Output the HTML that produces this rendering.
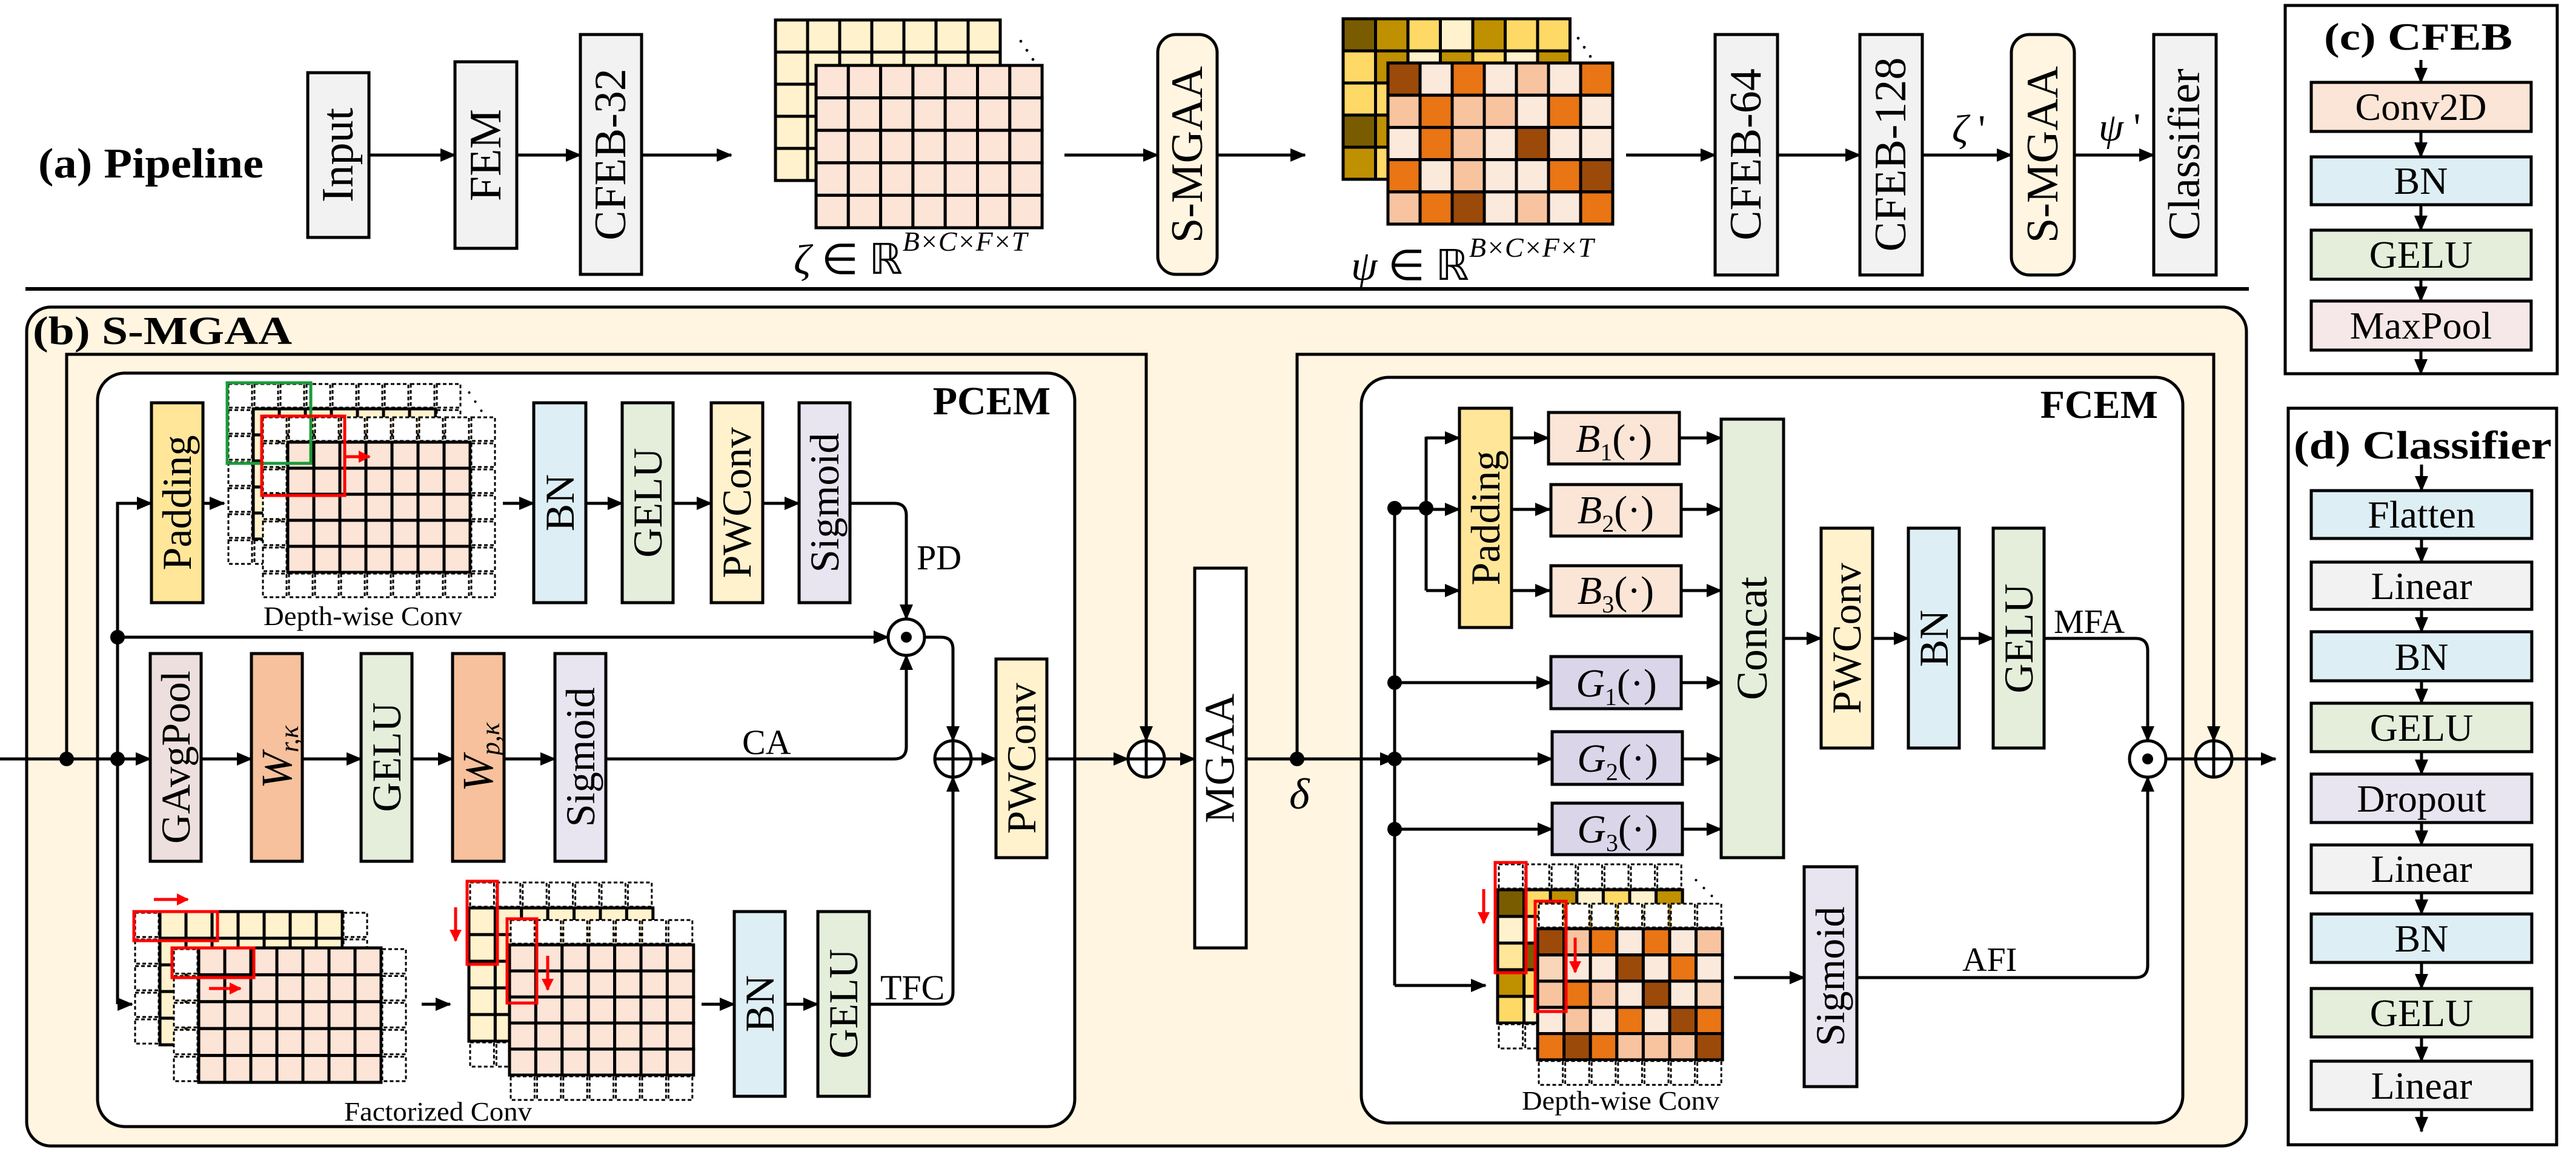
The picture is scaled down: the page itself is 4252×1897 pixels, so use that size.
<!DOCTYPE html>
<html><head><meta charset="utf-8"><style>
html,body{margin:0;padding:0;background:#fff;}
svg{display:block;font-family:"Liberation Serif","Times New Roman",serif;}
text{font-family:"Liberation Serif","Times New Roman",serif;fill:#000;}
.rot{text-anchor:middle;dominant-baseline:central;}
.b{stroke:#000;stroke-width:5;}
.ln{stroke:#000;stroke-width:5;fill:none;}
.ar{stroke:#000;stroke-width:5;fill:none;marker-end:url(#ah);}
</style></head><body>
<svg id="s" xmlns="http://www.w3.org/2000/svg" width="4252" height="1897" viewBox="0 0 4252 1897" font-family="Liberation Serif, serif">
<defs>
<marker id="ah" markerUnits="userSpaceOnUse" markerWidth="26" markerHeight="22" refX="24" refY="11" orient="auto"><path d="M0,0 L26,11 L0,22 Z" fill="#000"/></marker>
<marker id="rh" markerUnits="userSpaceOnUse" markerWidth="20" markerHeight="20" refX="18" refY="10" orient="auto"><path d="M0,0 L20,10 L0,20 Z" fill="#f00"/></marker>
</defs>

<!-- (a) Pipeline -->
<text x="63" y="293" font-size="70" font-weight="bold" textLength="372" lengthAdjust="spacingAndGlyphs">(a) Pipeline</text>
<rect x="508" y="120" width="101" height="272" fill="#f2f2f2" class="b"/>
<text class="rot" font-size="74" transform="translate(558,256) rotate(-90)">Input</text>
<rect x="751" y="102" width="102" height="308" fill="#f2f2f2" class="b"/>
<text class="rot" font-size="74" transform="translate(802,256) rotate(-90)">FEM</text>
<rect x="958" y="57" width="101" height="396" fill="#f2f2f2" class="b"/>
<text class="rot" font-size="74" transform="translate(1008,255) rotate(-90)">CFEB-32</text>
<rect x="1911" y="57" width="98" height="396" rx="30" fill="#fff5e0" class="b"/>
<text class="rot" font-size="74" transform="translate(1960,255) rotate(-90)">S-MGAA</text>
<rect x="2831" y="57" width="103" height="397" fill="#f2f2f2" class="b"/>
<text class="rot" font-size="74" transform="translate(2882,255) rotate(-90)">CFEB-64</text>
<rect x="3070" y="57" width="103" height="397" fill="#f2f2f2" class="b"/>
<text class="rot" font-size="74" transform="translate(3121,255) rotate(-90)">CFEB-128</text>
<rect x="3320" y="57" width="104" height="397" rx="30" fill="#fff5e0" class="b"/>
<text class="rot" font-size="74" transform="translate(3372,255) rotate(-90)">S-MGAA</text>
<rect x="3555" y="57" width="103" height="397" fill="#f2f2f2" class="b"/>
<text class="rot" font-size="74" transform="translate(3606,255) rotate(-90)">Classifier</text>

<path class="ar" d="M609,256 H751"/><path class="ar" d="M853,256 H958"/><path class="ar" d="M1059,256 H1207"/>
<path class="ar" d="M1757,256 H1911"/><path class="ar" d="M2009,256 H2154"/>
<path class="ar" d="M2684,256 H2831"/><path class="ar" d="M2934,256 H3070"/><path class="ar" d="M3173,256 H3320"/><path class="ar" d="M3424,256 H3555"/>

<g id="gTop"></g>
<text x="1680" y="70" font-size="40">.</text><text x="1690" y="85" font-size="40">.</text><text x="1700" y="100" font-size="40">.</text>
<text x="2600" y="65" font-size="40">.</text><text x="2610" y="80" font-size="40">.</text><text x="2620" y="95" font-size="40">.</text>
<text x="1310" y="452" font-size="70" font-style="italic">ζ <tspan font-style="normal">∈ ℝ</tspan><tspan dy="-38" font-size="46">B×C×F×T</tspan></text>
<text x="2230" y="462" font-size="70" font-style="italic">ψ <tspan font-style="normal">∈ ℝ</tspan><tspan dy="-38" font-size="46">B×C×F×T</tspan></text>
<text x="3222" y="235" font-size="66" font-style="italic">ζ <tspan font-style="normal">'</tspan></text>
<text x="3464" y="232" font-size="66" font-style="italic">ψ <tspan font-style="normal">'</tspan></text>

<line x1="42" y1="477" x2="3712" y2="477" stroke="#000" stroke-width="6"/>

<!-- (c) CFEB -->
<rect x="3772" y="9" width="449" height="608" fill="#fff" class="b"/>
<text x="3836" y="82" font-size="64" font-weight="bold" textLength="311" lengthAdjust="spacingAndGlyphs">(c) CFEB</text>
<rect x="3815" y="136" width="363" height="81" fill="#fbe5d6" class="b"/><text x="3996" y="198" font-size="64" text-anchor="middle">Conv2D</text>
<rect x="3815" y="259" width="363" height="79" fill="#deeef5" class="b"/><text x="3996" y="320" font-size="64" text-anchor="middle">BN</text>
<rect x="3815" y="380" width="363" height="81" fill="#e4eedb" class="b"/><text x="3996" y="442" font-size="64" text-anchor="middle">GELU</text>
<rect x="3815" y="497" width="363" height="81" fill="#f6e8e8" class="b"/><text x="3996" y="559" font-size="64" text-anchor="middle">MaxPool</text>
<path class="ar" d="M3996,99 V136"/><path class="ar" d="M3996,217 V259"/><path class="ar" d="M3996,338 V380"/><path class="ar" d="M3996,461 V497"/><path class="ar" d="M3996,578 V617"/>

<!-- (d) Classifier -->
<rect x="3777" y="674" width="443" height="1216" fill="#fff" class="b"/>
<text x="3786" y="757" font-size="66" font-weight="bold" textLength="426" lengthAdjust="spacingAndGlyphs">(d) Classifier</text>
<rect x="3815" y="810" width="364" height="79" fill="#deeef5" class="b"/><text x="3997" y="871" font-size="64" text-anchor="middle">Flatten</text>
<rect x="3815" y="928" width="364" height="78" fill="#f2f2f2" class="b"/><text x="3997" y="989" font-size="64" text-anchor="middle">Linear</text>
<rect x="3815" y="1043" width="364" height="81" fill="#deeef5" class="b"/><text x="3997" y="1106" font-size="64" text-anchor="middle">BN</text>
<rect x="3815" y="1161" width="364" height="80" fill="#e4eedb" class="b"/><text x="3997" y="1223" font-size="64" text-anchor="middle">GELU</text>
<rect x="3815" y="1278" width="364" height="80" fill="#e8e4f0" class="b"/><text x="3997" y="1340" font-size="64" text-anchor="middle">Dropout</text>
<rect x="3815" y="1395" width="364" height="79" fill="#f2f2f2" class="b"/><text x="3997" y="1456" font-size="64" text-anchor="middle">Linear</text>
<rect x="3815" y="1509" width="364" height="80" fill="#deeef5" class="b"/><text x="3997" y="1571" font-size="64" text-anchor="middle">BN</text>
<rect x="3815" y="1632" width="364" height="80" fill="#e4eedb" class="b"/><text x="3997" y="1694" font-size="64" text-anchor="middle">GELU</text>
<rect x="3815" y="1752" width="364" height="80" fill="#f2f2f2" class="b"/><text x="3997" y="1814" font-size="64" text-anchor="middle">Linear</text>
<path class="ar" d="M3997,767 V810"/><path class="ar" d="M3997,889 V928"/><path class="ar" d="M3997,1006 V1043"/><path class="ar" d="M3997,1124 V1161"/><path class="ar" d="M3997,1241 V1278"/><path class="ar" d="M3997,1358 V1395"/><path class="ar" d="M3997,1474 V1509"/><path class="ar" d="M3997,1589 V1632"/><path class="ar" d="M3997,1712 V1752"/><path class="ar" d="M3997,1832 V1868"/>

<!-- (b) S-MGAA -->
<rect x="44" y="507" width="3664" height="1385" rx="40" fill="#fff5e0" class="b"/>
<text x="54" y="568" font-size="66" font-weight="bold" textLength="428" lengthAdjust="spacingAndGlyphs">(b) S-MGAA</text>
<rect x="161" y="616" width="1613" height="1244" rx="45" fill="#fff" class="b"/>
<text x="1734" y="684" font-size="66" font-weight="bold" text-anchor="end">PCEM</text>
<rect x="2247" y="623" width="1356" height="1231" rx="45" fill="#fff" class="b"/>
<text x="3562" y="690" font-size="66" font-weight="bold" text-anchor="end">FCEM</text>

<g id="gIn"></g>

<!-- PCEM boxes -->
<rect x="250" y="665" width="85" height="330" fill="#ffe699" class="b"/><text class="rot" font-size="68" transform="translate(292,830) rotate(-90)">Padding</text>
<rect x="881" y="665" width="86" height="330" fill="#deeef5" class="b"/><text class="rot" font-size="68" transform="translate(924,830) rotate(-90)">BN</text>
<rect x="1027" y="665" width="84" height="330" fill="#e4eedb" class="b"/><text class="rot" font-size="68" transform="translate(1069,830) rotate(-90)">GELU</text>
<rect x="1174" y="665" width="85" height="330" fill="#fff2cc" class="b"/><text class="rot" font-size="68" transform="translate(1216,830) rotate(-90)">PWConv</text>
<rect x="1319" y="665" width="84" height="330" fill="#e8e4f0" class="b"/><text class="rot" font-size="68" transform="translate(1361,830) rotate(-90)">Sigmoid</text>
<text x="1513" y="940" font-size="58">PD</text>

<rect x="248" y="1079" width="84" height="343" fill="#eedfdf" class="b"/><text class="rot" font-size="68" transform="translate(290,1250) rotate(-90)">GAvgPool</text>
<rect x="415" y="1079" width="84" height="343" fill="#f6c19c" class="b"/><text class="rot" font-size="72" font-style="italic" transform="translate(457,1250) rotate(-90)">W<tspan font-size="44" dy="20">r,κ</tspan></text>
<rect x="596" y="1079" width="84" height="343" fill="#e4eedb" class="b"/><text class="rot" font-size="68" transform="translate(638,1250) rotate(-90)">GELU</text>
<rect x="747" y="1079" width="85" height="343" fill="#f6c19c" class="b"/><text class="rot" font-size="72" font-style="italic" transform="translate(789,1250) rotate(-90)">W<tspan font-size="44" dy="20">p,κ</tspan></text>
<rect x="916" y="1079" width="84" height="343" fill="#e8e4f0" class="b"/><text class="rot" font-size="68" transform="translate(958,1250) rotate(-90)">Sigmoid</text>
<text x="1225" y="1245" font-size="58">CA</text>

<rect x="1212" y="1505" width="84" height="305" fill="#deeef5" class="b"/><text class="rot" font-size="68" transform="translate(1254,1657) rotate(-90)">BN</text>
<rect x="1350" y="1505" width="85" height="305" fill="#e4eedb" class="b"/><text class="rot" font-size="68" transform="translate(1392,1657) rotate(-90)">GELU</text>
<text x="1453" y="1650" font-size="58">TFC</text>
<text x="435" y="1032" font-size="44" textLength="328" lengthAdjust="spacingAndGlyphs">Depth-wise Conv</text>
<text x="568" y="1850" font-size="44" textLength="310" lengthAdjust="spacingAndGlyphs">Factorized Conv</text>

<rect x="1644" y="1088" width="84" height="328" fill="#fff2cc" class="b"/><text class="rot" font-size="68" transform="translate(1686,1252) rotate(-90)">PWConv</text>
<rect x="1972" y="938" width="85" height="627" fill="#fff" class="b"/><text class="rot" font-size="70" transform="translate(2014,1252) rotate(-90)">MGAA</text>

<!-- PCEM connectors -->
<path class="ln" d="M0,1253 H248"/><path class="ar" d="M194,1253 H248"/>
<path class="ar" d="M110,1253 V585 H1892 V1223"/>
<path class="ar" d="M194,1658 V831 H250"/>
<path class="ar" d="M194,1658 H218"/>
<path class="ar" d="M335,831 H370"/>
<path class="ar" d="M830,831 H881"/><path class="ar" d="M967,831 H1027"/><path class="ar" d="M1111,831 H1174"/><path class="ar" d="M1259,831 H1319"/>
<path class="ar" d="M1403,831 H1476 Q1496,831 1496,851 V1022"/>
<path class="ar" d="M194,1052 H1466"/>
<path class="ar" d="M1526,1052 H1553 Q1573,1052 1573,1072 V1223"/>
<path class="ar" d="M332,1253 H415"/><path class="ar" d="M499,1253 H596"/><path class="ar" d="M680,1253 H747"/><path class="ar" d="M832,1253 H916"/>
<path class="ar" d="M1000,1253 H1476 Q1496,1253 1496,1233 V1082"/>
<path class="ar" d="M696,1658 H743"/><path class="ar" d="M1158,1658 H1212"/><path class="ar" d="M1296,1658 H1350"/>
<path class="ar" d="M1435,1658 H1553 Q1573,1658 1573,1638 V1283"/>
<path class="ar" d="M1603,1253 H1644"/>
<path class="ar" d="M1728,1253 H1862"/>
<path class="ar" d="M1922,1253 H1972"/>
<circle cx="110" cy="1253" r="12"/><circle cx="194" cy="1253" r="12"/><circle cx="194" cy="1052" r="12"/>
<circle cx="1496" cy="1052" r="30" fill="#fff" class="b"/><circle cx="1496" cy="1052" r="9"/>
<circle cx="1573" cy="1253" r="30" fill="#fff" class="b"/><path class="ln" d="M1543,1253 H1603 M1573,1223 V1283"/>
<circle cx="1892" cy="1253" r="30" fill="#fff" class="b"/><path class="ln" d="M1862,1253 H1922 M1892,1223 V1283"/>

<!-- FCEM -->
<path class="ar" d="M2057,1253 H2302"/>
<circle cx="2141" cy="1253" r="12"/>
<text x="2128" y="1335" font-size="72" font-style="italic">δ</text>
<path class="ar" d="M2141,1253 V585 H3654 V1223"/>
<path class="ln" d="M2302,839 V1627"/><path class="ar" d="M2302,1627 H2452"/>
<path class="ln" d="M2302,839 H2354 M2354,721 V975"/>
<path class="ar" d="M2354,723 H2409"/><path class="ar" d="M2354,841 H2409"/><path class="ar" d="M2354,975 H2409"/>
<circle cx="2302" cy="839" r="12"/><circle cx="2354" cy="839" r="12"/><circle cx="2302" cy="1127" r="12"/><circle cx="2302" cy="1253" r="12"/><circle cx="2302" cy="1369" r="12"/>
<rect x="2409" y="674" width="86" height="362" fill="#ffe699" class="b"/><text class="rot" font-size="68" transform="translate(2452,855) rotate(-90)">Padding</text>
<path class="ar" d="M2495,723 H2556"/><path class="ar" d="M2495,841 H2558"/><path class="ar" d="M2495,975 H2558"/>
<rect x="2556" y="681" width="216" height="85" fill="#fbe5d6" class="b"/>
<rect x="2560" y="800" width="215" height="85" fill="#fbe5d6" class="b"/>
<rect x="2560" y="934" width="215" height="83" fill="#fbe5d6" class="b"/>
<text x="2664" y="746" font-size="66" text-anchor="middle"><tspan font-style="italic">B</tspan><tspan font-size="40" dy="14">1</tspan><tspan dy="-14">(·)</tspan></text>
<text x="2667" y="864" font-size="66" text-anchor="middle"><tspan font-style="italic">B</tspan><tspan font-size="40" dy="14">2</tspan><tspan dy="-14">(·)</tspan></text>
<text x="2667" y="997" font-size="66" text-anchor="middle"><tspan font-style="italic">B</tspan><tspan font-size="40" dy="14">3</tspan><tspan dy="-14">(·)</tspan></text>
<rect x="2560" y="1084" width="215" height="86" fill="#dad5e8" class="b"/>
<rect x="2562" y="1208" width="215" height="87" fill="#dad5e8" class="b"/>
<rect x="2562" y="1326" width="215" height="85" fill="#dad5e8" class="b"/>
<text x="2668" y="1150" font-size="66" text-anchor="middle"><tspan font-style="italic">G</tspan><tspan font-size="40" dy="14">1</tspan><tspan dy="-14">(·)</tspan></text>
<text x="2670" y="1274" font-size="66" text-anchor="middle"><tspan font-style="italic">G</tspan><tspan font-size="40" dy="14">2</tspan><tspan dy="-14">(·)</tspan></text>
<text x="2670" y="1391" font-size="66" text-anchor="middle"><tspan font-style="italic">G</tspan><tspan font-size="40" dy="14">3</tspan><tspan dy="-14">(·)</tspan></text>
<path class="ar" d="M2302,1127 H2560"/><path class="ar" d="M2302,1253 H2562"/><path class="ar" d="M2302,1369 H2562"/>
<path class="ar" d="M2772,723 H2841"/><path class="ar" d="M2775,841 H2841"/><path class="ar" d="M2775,975 H2841"/><path class="ar" d="M2775,1127 H2841"/><path class="ar" d="M2777,1253 H2841"/><path class="ar" d="M2777,1369 H2841"/>
<rect x="2841" y="692" width="103" height="724" fill="#e4eedb" class="b"/><text class="rot" font-size="72" transform="translate(2892,1054) rotate(-90)">Concat</text>
<rect x="3006" y="872" width="85" height="363" fill="#fff2cc" class="b"/><text class="rot" font-size="68" transform="translate(3048,1054) rotate(-90)">PWConv</text>
<rect x="3150" y="872" width="84" height="363" fill="#deeef5" class="b"/><text class="rot" font-size="68" transform="translate(3192,1054) rotate(-90)">BN</text>
<rect x="3290" y="872" width="84" height="363" fill="#e4eedb" class="b"/><text class="rot" font-size="68" transform="translate(3332,1054) rotate(-90)">GELU</text>
<path class="ar" d="M2944,1054 H3006"/><path class="ar" d="M3091,1054 H3150"/><path class="ar" d="M3234,1054 H3290"/>
<path class="ar" d="M3374,1054 H3525 Q3545,1054 3545,1074 V1223"/>
<text x="3390" y="1045" font-size="56">MFA</text>
<rect x="2978" y="1431" width="87" height="363" fill="#e8e4f0" class="b"/><text class="rot" font-size="68" transform="translate(3021,1612) rotate(-90)">Sigmoid</text>
<path class="ar" d="M2862,1614 H2978"/>
<path class="ar" d="M3065,1614 H3525 Q3545,1614 3545,1594 V1283"/>
<text x="3239" y="1603" font-size="56">AFI</text>
<text x="2512" y="1832" font-size="44" textLength="326" lengthAdjust="spacingAndGlyphs">Depth-wise Conv</text>
<circle cx="3545" cy="1253" r="30" fill="#fff" class="b"/><circle cx="3545" cy="1253" r="9"/>
<path class="ln" d="M3575,1253 H3624"/>
<circle cx="3654" cy="1253" r="30" fill="#fff" class="b"/><path class="ln" d="M3624,1253 H3684 M3654,1223 V1283"/>
<path class="ar" d="M3684,1253 H3756"/>
<g id="gF"></g>
</svg>
<script>
var NS="http://www.w3.org/2000/svg";
function el(g,t,a){var e=document.createElementNS(NS,t);for(var k in a)e.setAttribute(k,a[k]);g.appendChild(e);return e;}
function grid(g,x,y,cols,rows,cw,ch,fn){
 for(var r=0;r<rows;r++)for(var c=0;c<cols;c++){
  var f=fn(r,c);
  if(f==='d')el(g,'rect',{x:x+c*cw+2,y:y+r*ch+2,width:cw-4,height:ch-4,fill:'#fff',stroke:'#000','stroke-width':3,'stroke-dasharray':'6,4'});
  else el(g,'rect',{x:x+c*cw,y:y+r*ch,width:cw,height:ch,fill:f,stroke:'#000','stroke-width':5});
 }}
var P='#fbe9dc',O='#e97514',BR='#9c4a0a',LP='#f8c4a0',LP2='#f9d5b9';
var DK='#7a5c00',GD='#bf9000',YL='#ffd966',PY='#fff2cc',YL2='#ffe699';
var gT=document.getElementById('gTop');
grid(gT,1280,33,7,5,53,53,function(){return '#fff2cc';});
grid(gT,1347,108,7,5,53.3,53.6,function(){return '#fce4d6';});
var bk=[[DK,GD,YL,PY,GD,YL,YL],[YL,GD,PY,GD,YL,PY,GD],[YL,YL,GD,PY,YL,GD,YL],[DK,GD,YL,PY,GD,YL,PY],[GD,YL,PY,GD,YL,DK,YL]];
grid(gT,2217,31,7,5,53.5,53,function(r,c){return bk[r][c];});
var fr=[[BR,P,O,P,LP,P,O],[LP,O,LP,LP,P,O,P],[P,O,LP,P,BR,P,P],[O,P,LP,P,P,O,BR],[LP,O,BR,P,LP,P,O]];
grid(gT,2291,104,7,5,53,53.2,function(r,c){return fr[r][c];});

var gI=document.getElementById('gIn');
function ring(cols,rows,fill){return function(r,c){return (r==0||c==0||r==rows-1||c==cols-1)?'d':fill;};}
grid(gI,375,632,9,7,43,43,ring(9,7,'#fff2cc'));
grid(gI,432,687,9,7,43,43,ring(9,7,'#fce4d6'));
el(gI,'rect',{x:375,y:632,width:138,height:133,fill:'none',stroke:'#1a9b3a','stroke-width':5});
el(gI,'rect',{x:432,y:687,width:137,height:131,fill:'none',stroke:'#f00','stroke-width':5});
el(gI,'path',{d:'M569,754 H610',stroke:'#f00','stroke-width':5,fill:'none','marker-end':'url(#rh)'});
el(gI,'text',{x:770,y:650,'font-size':36}).textContent='.';
el(gI,'text',{x:780,y:665,'font-size':36}).textContent='.';
el(gI,'text',{x:790,y:680,'font-size':36}).textContent='.';
grid(gI,221,1505,9,5,43,44,function(r,c){return (c==0||c==8)?'d':'#fff2cc';});
grid(gI,285,1565,9,5,43,44.4,function(r,c){return (c==0||c==8)?'d':'#fce4d6';});
el(gI,'rect',{x:221,y:1505,width:138,height:48,fill:'none',stroke:'#f00','stroke-width':5});
el(gI,'rect',{x:284,y:1565,width:135,height:49,fill:'none',stroke:'#f00','stroke-width':5});
el(gI,'path',{d:'M254,1485 H310',stroke:'#f00','stroke-width':5,fill:'none','marker-end':'url(#rh)'});
el(gI,'path',{d:'M345,1632 H397',stroke:'#f00','stroke-width':5,fill:'none','marker-end':'url(#rh)'});
grid(gI,774,1455,7,7,43.4,44,function(r,c){return (r==0||r==6)?'d':'#fff2cc';});
grid(gI,841,1517,7,7,43.4,43,function(r,c){return (r==0||r==6)?'d':'#fce4d6';});
el(gI,'rect',{x:771,y:1455,width:50,height:137,fill:'none',stroke:'#f00','stroke-width':5});
el(gI,'rect',{x:837,y:1517,width:49,height:139,fill:'none',stroke:'#f00','stroke-width':5});
el(gI,'path',{d:'M752,1498 V1553',stroke:'#f00','stroke-width':5,fill:'none','marker-end':'url(#rh)'});
el(gI,'path',{d:'M904,1578 V1634',stroke:'#f00','stroke-width':5,fill:'none','marker-end':'url(#rh)'});

var gF=document.getElementById('gF');
var bk2=[[DK,YL,GD,PY,YL,PY,GD],[PY,PY,YL,GD,YL,PY,GD],[YL2,DK,PY,YL,GD,YL,PY],[GD,YL,PY,GD,PY,YL,DK],[YL,PY,GD,YL,PY,GD,YL]];
grid(gF,2472,1425,7,7,43.6,44,function(r,c){return (r==0||r==6)?'d':bk2[r-1][c];});
var fr2=[[BR,LP,O,P,O,P,LP],[LP2,P,P,BR,P,O,P],[LP,O,LP,P,BR,P,LP2],[P,LP,P,O,P,BR,O],[O,BR,O,LP,LP,LP,BR]];
grid(gF,2538,1490,7,7,43.6,43.3,function(r,c){return (r==0||r==6)?'d':fr2[r-1][c];});
el(gF,'rect',{x:2468,y:1424,width:51,height:182,fill:'none',stroke:'#f00','stroke-width':5});
el(gF,'rect',{x:2534,y:1488,width:51,height:182,fill:'none',stroke:'#f00','stroke-width':5});
el(gF,'path',{d:'M2449,1468 V1524',stroke:'#f00','stroke-width':5,fill:'none','marker-end':'url(#rh)'});
el(gF,'path',{d:'M2600,1548 V1605',stroke:'#f00','stroke-width':5,fill:'none','marker-end':'url(#rh)'});
el(gF,'text',{x:2795,y:1455,'font-size':36}).textContent='.';
el(gF,'text',{x:2808,y:1468,'font-size':36}).textContent='.';
el(gF,'text',{x:2821,y:1481,'font-size':36}).textContent='.';
</script>
</body></html>
